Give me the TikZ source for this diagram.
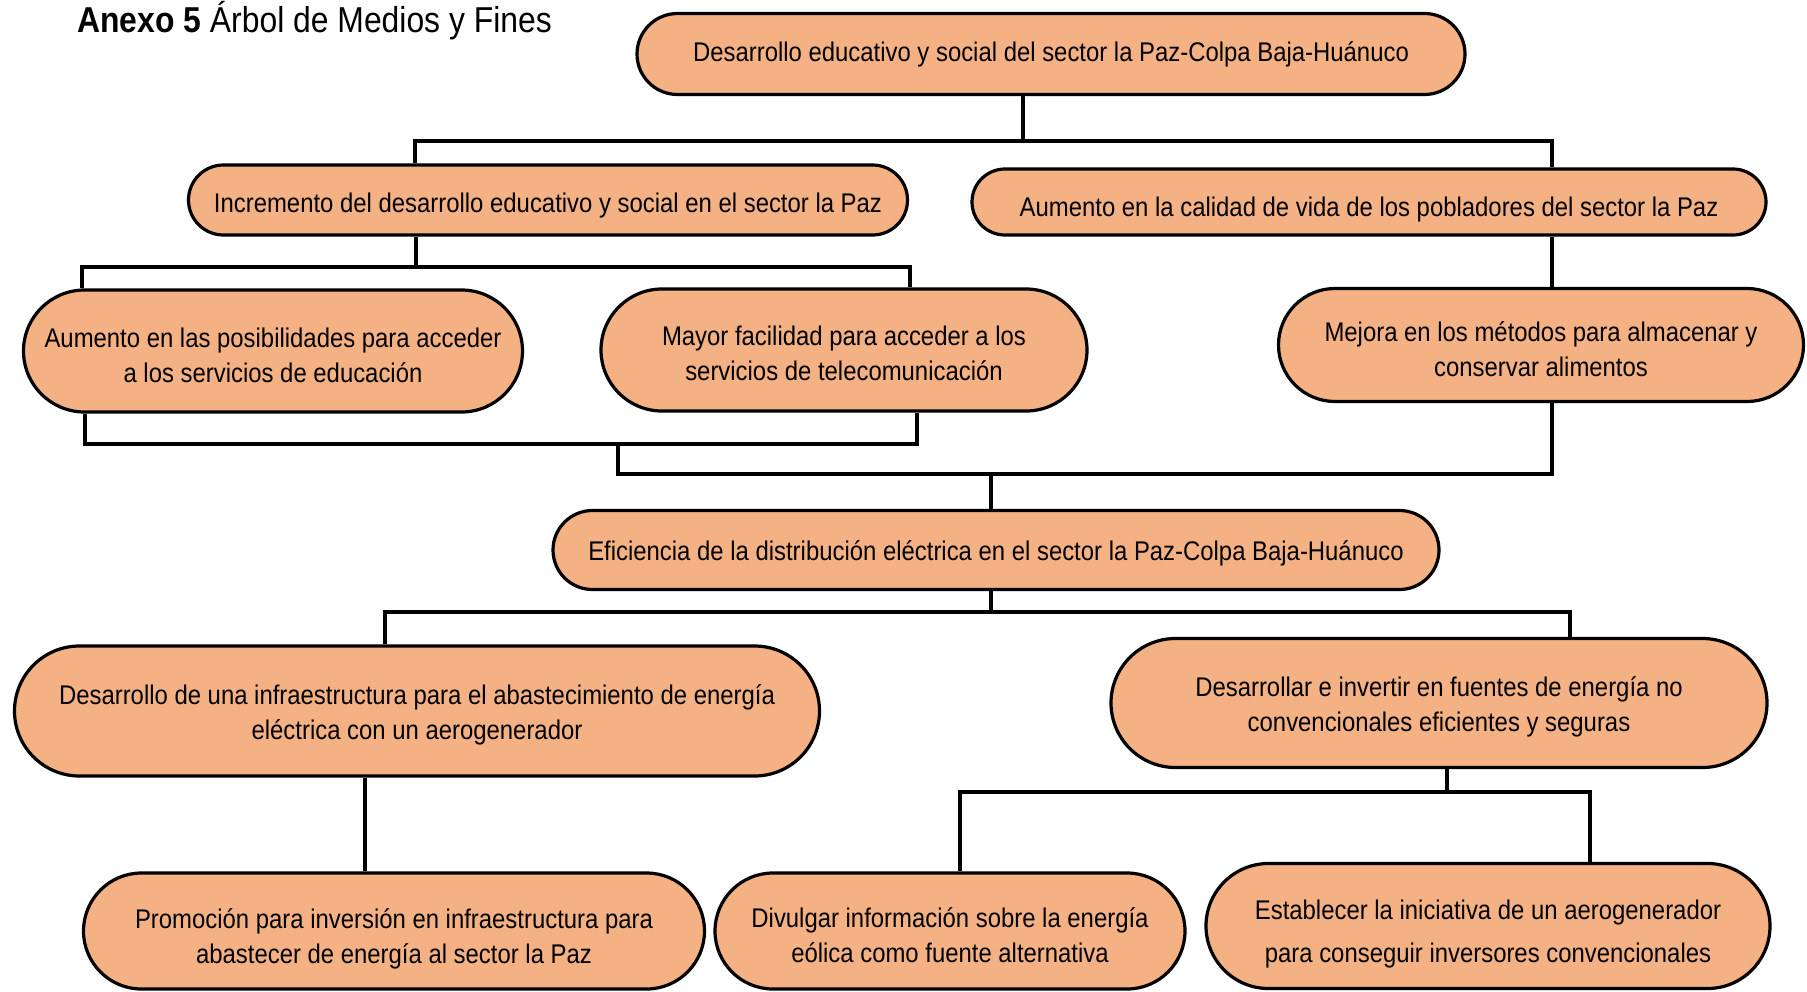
\documentclass[tikz,border=0pt]{standalone}
\usepackage{fontspec}
\setmainfont{Liberation Sans}[FakeStretch=0.885]
\usetikzlibrary{shapes.misc,calc}
\definecolor{durazno}{RGB}{244,177,131}
\newcommand{\bajartexto}[1]{\rule{0pt}{#1pt}}
\tikzset{
caja/.style={rounded rectangle,draw,line width=3.2pt,fill=durazno,align=center,inner sep=0pt,font=\fontsize{27}{35}\selectfont},
linea/.style={line width=4.6pt}
}

\begin{document}
\begin{tikzpicture}[x=1pt,y=-1pt]
\useasboundingbox (0,0) rectangle (1807,991);

%titulo
\node[anchor=base west,inner sep=0pt,font=\fontsize{36}{40}\selectfont](titulo) at (77,32){\textbf{Anexo 5} Árbol de Medios y Fines};

%fines
\node[caja,minimum width=828pt,minimum height=81pt](fin) at (1051,54){Desarrollo educativo y social del sector la Paz-Colpa Baja-Huánuco};
\node[caja,minimum width=719pt,minimum height=70pt](f1) at (548,200){\bajartexto{31}Incremento del desarrollo educativo y social en el sector la Paz};
\node[caja,minimum width=794pt,minimum height=66pt](f2) at (1369,202){\bajartexto{35}Aumento en la calidad de vida de los pobladores del sector la Paz};
\node[caja,minimum width=499pt,minimum height=122pt](f11) at (273,351){\bajartexto{28}Aumento en las posibilidades para acceder\\a los servicios de educación};
\node[caja,minimum width=486pt,minimum height=122pt](f12) at (844,350){\bajartexto{26}Mayor facilidad para acceder a los\\servicios de telecomunicación};
\node[caja,minimum width=525pt,minimum height=113pt](f21) at (1541,345){\bajartexto{29}Mejora en los métodos para almacenar y\\conservar alimentos};

%objetivo
\node[caja,minimum width=886pt,minimum height=79pt](obj) at (996,550){\bajartexto{26}Eficiencia de la distribución eléctrica en el sector la Paz-Colpa Baja-Huánuco};

%medios
\node[caja,minimum width=805pt,minimum height=130pt](m1) at (417,711){\bajartexto{27}Desarrollo de una infraestructura para el abastecimiento de energía\\eléctrica con un aerogenerador};
\node[caja,minimum width=656pt,minimum height=129pt](m2) at (1439,703){\bajartexto{27}Desarrollar e invertir en fuentes de energía no\\convencionales eficientes y seguras};
\node[caja,minimum width=621pt,minimum height=116pt](m11) at (394,931){\bajartexto{35}Promoción para inversión en infraestructura para\\abastecer de energía al sector la Paz};
\node[caja,minimum width=470pt,minimum height=116pt](m21) at (950,931){\bajartexto{28}Divulgar información sobre la energía\\eólica como fuente alternativa};
\node[caja,minimum width=564pt,minimum height=125pt,font=\fontsize{27}{43}\selectfont](m22) at (1488,926){\bajartexto{36}Establecer la iniciativa de un aerogenerador\\para conseguir inversores convencionales};

%puntos de union
\coordinate(c1) at (1023,141); \coordinate(b1i) at (415,141); \coordinate(b1d) at (1552,141);
\coordinate(c2) at (416,267); \coordinate(b2i) at (82,267); \coordinate(b2d) at (910,267);
\coordinate(b3i) at (85,444); \coordinate(b3d) at (917,444); \coordinate(c3) at (618,444);
\coordinate(c4) at (618,474); \coordinate(b4d) at (1552,474); \coordinate(c5) at (991,474);
\coordinate(c6) at (991,612); \coordinate(b6i) at (385,612); \coordinate(b6d) at (1570,612);
\coordinate(c7) at (365,820);
\coordinate(c8) at (1447,792); \coordinate(b8i) at (960,792); \coordinate(b8d) at (1590,792);

%lineas
\draw[linea](fin.south -| c1)--(c1);
\draw[linea](f1.north -| b1i)--(b1i)--(b1d)--(f2.north -| b1d); %nivel 1
\draw[linea](f1.south -| c2)--(c2);
\draw[linea](f11.north -| b2i)--(b2i)--(b2d)--(f12.north -| b2d); %nivel 2
\draw[linea](f2.south -| b1d)--(f21.north -| b1d);
\draw[linea](f11.south -| b3i)--(b3i)--(b3d)--(f12.south -| b3d); %nivel 3
\draw[linea](c3)--(c4)--(b4d)--(f21.south -| b4d);
\draw[linea](c5)--(obj.north -| c5);
\draw[linea](obj.south -| c6)--(c6);
\draw[linea](m1.north -| b6i)--(b6i)--(b6d)--(m2.north -| b6d); %medios
\draw[linea](m1.south -| c7)--(m11.north -| c7);
\draw[linea](m2.south -| c8)--(c8);
\draw[linea](m21.north -| b8i)--(b8i)--(b8d)--(m22.north -| b8d);
\end{tikzpicture}
\end{document}
